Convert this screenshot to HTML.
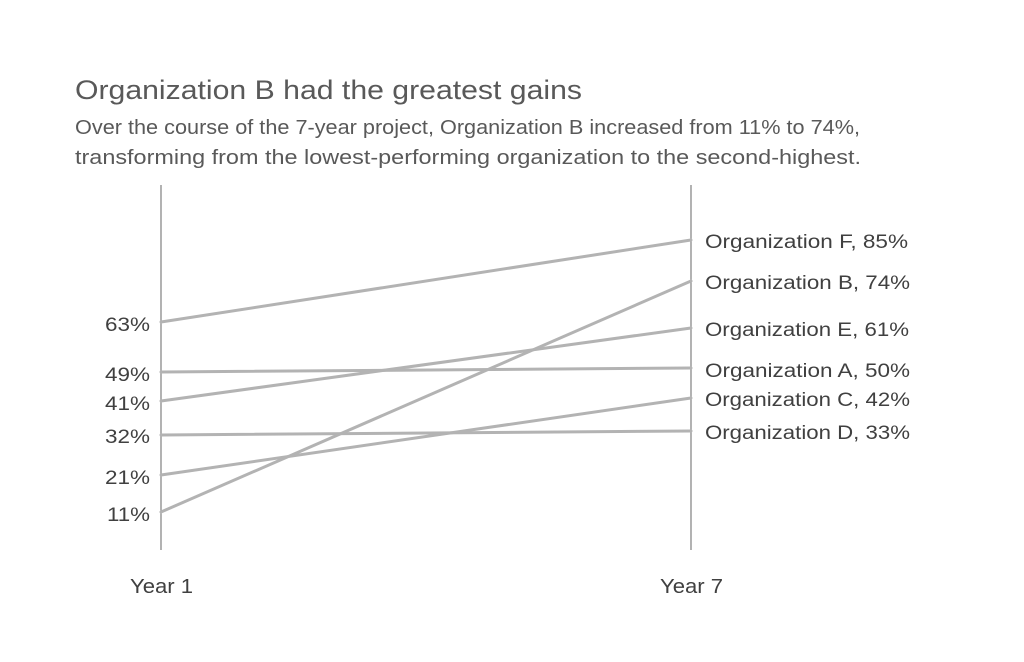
<!DOCTYPE html>
<html><head><meta charset="utf-8"><style>
html,body{margin:0;padding:0;background:#fff;}
svg{display:block;font-family:"Liberation Sans",sans-serif;}
</style></head><body>
<svg width="1024" height="662" viewBox="0 0 1024 662" xmlns="http://www.w3.org/2000/svg">
<rect width="1024" height="662" fill="#fff"/>
<text x="75" y="99" font-size="27" fill="#595959" textLength="507" lengthAdjust="spacingAndGlyphs">Organization B had the greatest gains</text>
<text x="75" y="134" font-size="20" fill="#595959" textLength="785" lengthAdjust="spacingAndGlyphs">Over the course of the 7-year project, Organization B increased from 11% to 74%,</text>
<text x="75" y="164" font-size="20" fill="#595959" textLength="786" lengthAdjust="spacingAndGlyphs">transforming from the lowest-performing organization to the second-highest.</text>
<line x1="161" y1="185" x2="161" y2="550" stroke="#808080" stroke-width="1.2"/>
<line x1="691" y1="185" x2="691" y2="550" stroke="#808080" stroke-width="1.2"/>
<g stroke="#b3b3b3" stroke-width="3" stroke-linecap="round">
<line x1="161" y1="322" x2="691" y2="240"/>
<line x1="161" y1="512" x2="691" y2="281"/>
<line x1="161" y1="401" x2="691" y2="328"/>
<line x1="161" y1="372" x2="691" y2="368"/>
<line x1="161" y1="475" x2="691" y2="398"/>
<line x1="161" y1="435" x2="691" y2="431"/>
</g>
<g font-size="19" fill="#404040">
<text x="105" y="331" textLength="45" lengthAdjust="spacingAndGlyphs">63%</text>
<text x="105" y="381" textLength="45" lengthAdjust="spacingAndGlyphs">49%</text>
<text x="105" y="410" textLength="45" lengthAdjust="spacingAndGlyphs">41%</text>
<text x="105" y="443" textLength="45" lengthAdjust="spacingAndGlyphs">32%</text>
<text x="105" y="484" textLength="45" lengthAdjust="spacingAndGlyphs">21%</text>
<text x="107" y="521" textLength="43" lengthAdjust="spacingAndGlyphs">11%</text>
</g>
<g font-size="19" fill="#404040">
<text x="705" y="248" textLength="203" lengthAdjust="spacingAndGlyphs">Organization F, 85%</text>
<text x="705" y="289" textLength="205" lengthAdjust="spacingAndGlyphs">Organization B, 74%</text>
<text x="705" y="336" textLength="204" lengthAdjust="spacingAndGlyphs">Organization E, 61%</text>
<text x="705" y="377" textLength="205" lengthAdjust="spacingAndGlyphs">Organization A, 50%</text>
<text x="705" y="406" textLength="205" lengthAdjust="spacingAndGlyphs">Organization C, 42%</text>
<text x="705" y="439" textLength="205" lengthAdjust="spacingAndGlyphs">Organization D, 33%</text>
</g>
<g font-size="20" fill="#404040">
<text x="130" y="593" textLength="63" lengthAdjust="spacingAndGlyphs">Year 1</text>
<text x="660" y="593" textLength="63" lengthAdjust="spacingAndGlyphs">Year 7</text>
</g>
</svg>
</body></html>
